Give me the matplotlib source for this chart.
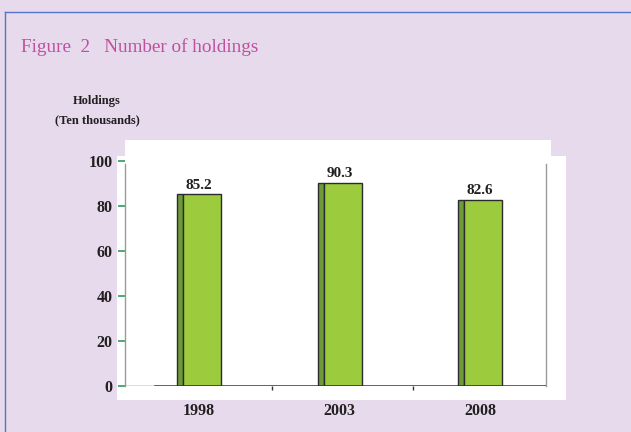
import matplotlib
matplotlib.use("Agg")
import matplotlib.pyplot as plt
from matplotlib.patches import Rectangle

# data
years = ["1998", "2003", "2008"]
holdings = [85.2, 90.3, 82.6]
yticks = [0, 20, 40, 60, 80, 100]

W, H = 631, 432
BG = "#E6DAEC"
SERIF = "Liberation Serif"

fig = plt.figure(figsize=(W / 100, H / 100), dpi=100, facecolor=BG)

def fx(px):
    return px / W

def fy(py):
    return 1 - py / H

# frame border (top and left)
fig.add_artist(plt.Line2D([fx(5), 1], [fy(12), fy(12)], color="#5575C8", lw=1.0))
fig.add_artist(plt.Line2D([fx(5), fx(5)], [fy(12), 0], color="#5575C8", lw=1.0))

# white panels behind the plot
fig.add_artist(Rectangle((fx(125), fy(156)), fx(551 - 125), (156 - 140) / H,
                         facecolor="white", edgecolor="none", zorder=0))
fig.add_artist(Rectangle((fx(117), fy(400)), fx(566 - 117), (400 - 156) / H,
                         facecolor="white", edgecolor="none", zorder=0))

fig.text(fx(21), fy(47), "Figure  2   Number of holdings", family=SERIF,
         fontsize=13.8, color="#C0509E", ha="left", va="center")
fig.text(fx(97), fy(101), "Holdings", family=SERIF, fontsize=9,
         weight="bold", color="#231F20", ha="center", va="center")
fig.text(fx(97), fy(120), "(Ten thousands)", family=SERIF, fontsize=9,
         weight="bold", color="#231F20", ha="center", va="center")

ax = fig.add_axes([fx(125), fy(386), fx(546 - 125), (386 - 161) / H])
ax.set_facecolor("none")

x = list(range(len(years)))
step = 140.5
side_l, side_r, front_r = -22 / step, -16 / step, 22 / step
ax.bar([i + side_l for i in x], holdings, width=side_r - side_l, align="edge",
       color="#6F9A3A", edgecolor="#2B2B2B", linewidth=1.0, zorder=3)
ax.bar([i + side_r for i in x], holdings, width=front_r - side_r, align="edge",
       color="#9CCB3D", edgecolor="#2B2B2B", linewidth=1.0, zorder=3)

for i, v in zip(x, holdings):
    ax.annotate(f"{v:.1f}", (i, v), xytext=(0, 2), textcoords="offset points",
                ha="center", va="bottom", family=SERIF, fontsize=11,
                weight="bold", color="#231F20")

ax.set_xlim(-(199 - 125) / step, 2 + (546 - 480) / step)
ax.set_ylim(0, 100)

ax.set_yticks(yticks)
ax.set_yticklabels([str(t) for t in yticks], family=SERIF, fontsize=11.5,
                   weight="bold", color="#231F20")
ax.tick_params(axis="y", direction="out", length=5, width=1.2,
               color="#2E9B5E", pad=4)

ax.set_xticks(x)
ax.set_xticklabels(years, family=SERIF, fontsize=11.5, weight="bold",
                   color="#231F20")
ax.tick_params(axis="x", which="major", length=0, pad=12)
ax.set_xticks([0.52, 1.52], minor=True)
ax.tick_params(axis="x", which="minor", direction="out", length=3,
               width=1, color="#333333")

for side in ("left", "right"):
    ax.spines[side].set_color("#9A9A9A")
    ax.spines[side].set_linewidth(1.0)
    ax.spines[side].set_bounds(0, 98.5)
ax.spines["top"].set_visible(False)
ax.spines["bottom"].set_visible(False)

# base line: thin grey stub then dark axis line
split = (155 - 125) / (546 - 125)
ax.axhline(0, xmin=0, xmax=split, color="#555555", lw=1.0, zorder=2)
ax.axhline(0, xmin=split, xmax=1, color="#333333", lw=1.8, zorder=4)

fig.savefig("out.png", dpi=100, facecolor=BG)
